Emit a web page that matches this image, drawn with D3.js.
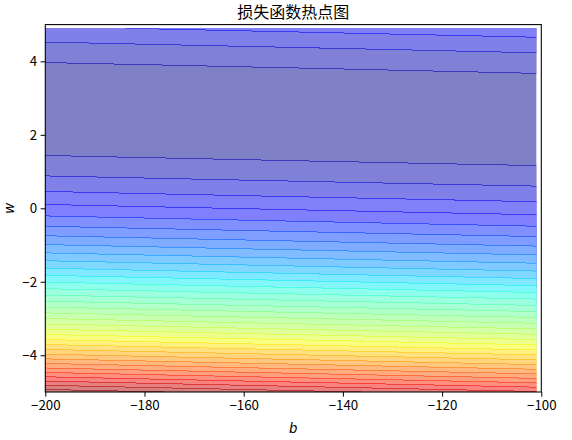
<!DOCTYPE html>
<html><head><meta charset="utf-8">
<script src="https://cdn.jsdelivr.net/npm/d3@7"></script>
<style>
html,body{margin:0;padding:0;background:#fff;}
svg{display:block;font-family:"Noto Sans CJK SC","DejaVu Sans",sans-serif;}
</style></head><body>
<div id="chart"></div>
<script>
// 训练数据 x_data / y_data，损失 = 均方误差
const xData = [338, 333, 328, 207, 226, 25, 179, 60, 208, 606];
const yData = [640, 633, 619, 393, 428, 27, 193, 66, 226, 1591];
// 网格: b = -200..-101 (步长1), w = -5..4.9 (步长0.1)
const bValues = d3.range(-200, -100, 1);
const wValues = d3.range(-5, 5, 0.1);
const xTicks = [-200, -180, -160, -140, -120, -100];
const yTicks = [-4, -2, 0, 2, 4];
const title = "损失函数热点图";
const nLevels = 50;

const W = 572, H = 440, m = {l:45.3, r:30.7, t:24.6, b:48};
const x = d3.scaleLinear().domain([-200, -100]).range([m.l, W-m.r]);
const y = d3.scaleLinear().domain([-5, 5]).range([H-m.b, m.t]);

// Loss-Gitter
const n = bValues.length, k = wValues.length;
const Z = new Array(n*k);
wValues.forEach((w,j)=>bValues.forEach((b,i)=>{
  let s = 0;
  for(let q=0;q<xData.length;q++){ const r = yData[q]-b-w*xData[q]; s += r*r; }
  Z[j*n+i] = s/xData.length;
}));

// Levels wie MaxNLocator(N+1)
function autoLevels(lo, hi, nb){
  const steps=[1,1.5,2,2.5,3,4,5,6,8,10];
  const raw=(hi-lo)/nb, sc=Math.pow(10,Math.floor(Math.log10(raw)));
  const step=steps.find(s=>s*sc>=raw)*sc;
  const a=Math.floor(lo/step), e=Math.ceil(hi/step);
  return d3.range(a, e+1).map(i=>i*step);
}
const [zmin, zmax] = d3.extent(Z);
const levels = autoLevels(zmin, zmax, nLevels+1);
const vmax = levels[levels.length-1], vmin = levels[0];

// jet colormap
const jet = {
  r:[[0,0],[0.35,0],[0.66,1],[0.89,1],[1,0.5]],
  g:[[0,0],[0.125,0],[0.375,1],[0.64,1],[0.91,0],[1,0]],
  b:[[0,0.5],[0.11,1],[0.34,1],[0.65,0],[1,0]]
};
function seg(p,t){
  for(let i=1;i<p.length;i++) if(t<=p[i][0]){
    const [x0,y0]=p[i-1],[x1,y1]=p[i]; return y0+(y1-y0)*(t-x0)/(x1-x0);
  }
  return p[p.length-1][1];
}
function jetColor(t){
  const idx=Math.max(0,Math.min(255,Math.floor(t*256))), tt=idx/255;
  return d3.rgb(seg(jet.r,tt)*255, seg(jet.g,tt)*255, seg(jet.b,tt)*255);
}
const layerColor = levels.slice(0,-1).map((l,i)=>jetColor(((l+levels[i+1])/2 - vmin)/(vmax-vmin)));

const svg = d3.select("#chart").append("svg").attr("width",W).attr("height",H);
svg.append("defs").append("clipPath").attr("id","clip").append("rect")
  .attr("x",x(bValues[0])).attr("y",y(wValues[k-1]))
  .attr("width",x(bValues[n-1])-x(bValues[0])).attr("height",y(wValues[0])-y(wValues[k-1]));

const db = bValues[1]-bValues[0], dw = wValues[1]-wValues[0];
const path = d3.geoPath(d3.geoTransform({point(px,py){
  this.stream.point(x(bValues[0]+(px-0.5)*db), y(wValues[0]+(py-0.5)*dw));
}}));
const contours = d3.contours().size([n,k]).thresholds(levels.slice(0,-1))(Z);

const g = svg.append("g").attr("clip-path","url(#clip)");
g.selectAll("path.fill").data(contours).join("path").attr("class","fill")
  .attr("d",path).attr("fill",(d,i)=>d3.interpolateRgb("#fff",layerColor[i])(0.5)).attr("stroke","none");
// Nahtlinien zwischen den Flächen
g.selectAll("path.seam").data(contours.slice(1)).join("path").attr("class","seam")
  .attr("d",path).attr("fill","none").attr("stroke",(d,i)=>layerColor[i+1]).attr("stroke-opacity",0.55)
  .attr("stroke-width",1).attr("shape-rendering","crispEdges");

// Achsen
const tl = 4.7, fs = 13.3;
const fmt = d => (d<0 ? "\u2212" : "") + Math.abs(d);
const ax = svg.append("g").attr("transform",`translate(0,${H-m.b})`)
  .call(d3.axisBottom(x).tickValues(xTicks).tickSize(tl).tickPadding(3.5).tickFormat(fmt));
const ay = svg.append("g").attr("transform",`translate(${m.l},0)`)
  .call(d3.axisLeft(y).tickValues(yTicks).tickSize(tl).tickPadding(3.5).tickFormat(fmt));
[ax,ay].forEach(a=>{
  a.select(".domain").remove();
  a.selectAll("text").attr("font-size",fs).attr("fill","#000").attr("font-family",'"Noto Sans CJK SC",sans-serif');
  a.selectAll("line").attr("stroke","#000").attr("stroke-width",1);
});
svg.append("rect").attr("x",m.l).attr("y",m.t).attr("width",W-m.r-m.l).attr("height",H-m.b-m.t)
  .attr("fill","none").attr("stroke","#000").attr("stroke-width",1.07);

svg.append("text").attr("x",(m.l+W-m.r)/2).attr("y",17.5).attr("text-anchor","middle")
  .attr("font-size",16).text(title);
svg.append("text").attr("x",(m.l+W-m.r)/2).attr("y",433).attr("text-anchor","middle")
  .attr("font-size",fs).attr("font-style","italic").attr("font-family","DejaVu Sans").text("b");
svg.append("text").attr("transform",`translate(13.5,${(m.t+H-m.b)/2}) rotate(-90)`).attr("text-anchor","middle")
  .attr("font-size",fs).attr("font-style","italic").attr("font-family","DejaVu Sans").text("w");
</script>
</body></html>
